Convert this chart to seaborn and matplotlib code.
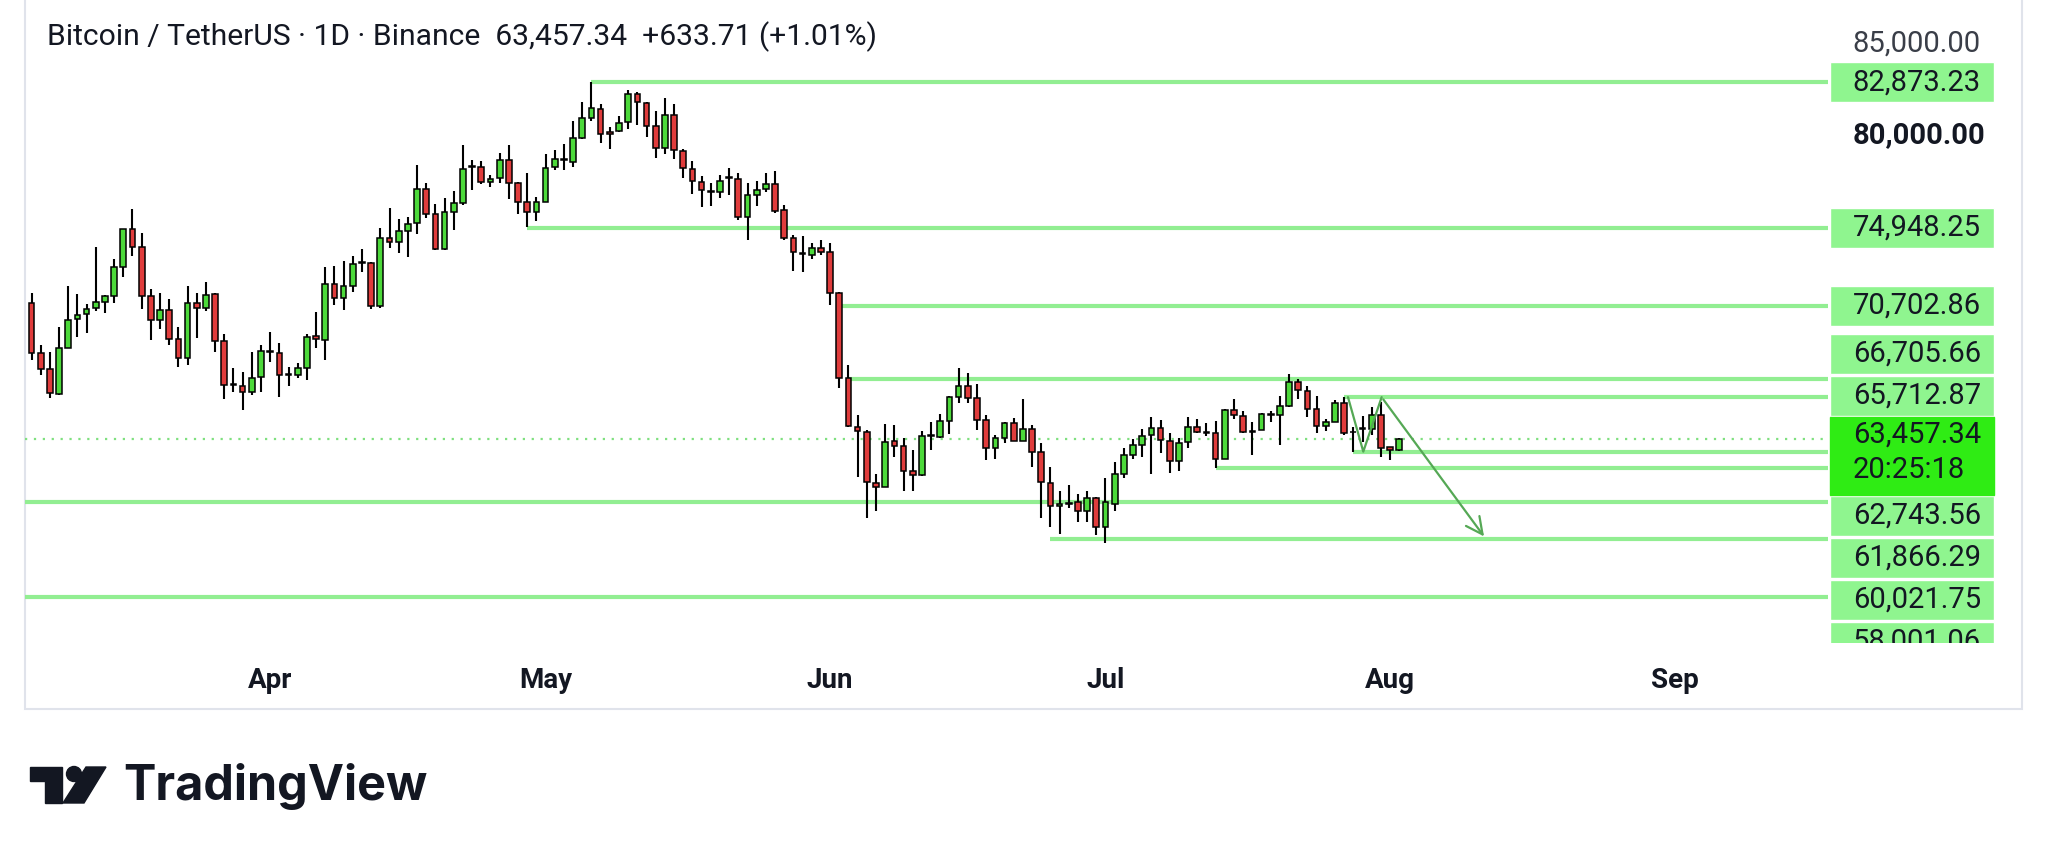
import numpy as np
import pandas as pd
import seaborn as sns
import matplotlib.pyplot as plt
import matplotlib.dates as mdates
from matplotlib.patches import Rectangle, Polygon, Circle

# daily candles, BTC/USDT (Mar 6 .. Aug 2)
dates = pd.date_range('2024-03-06', periods=150, freq='D')
opens = [70867, 68105, 67234, 65889, 68414, 69958, 70231, 70558, 70921, 71230,
         72828, 74863, 73882, 71230, 69922, 70467, 68886, 67833, 70867, 70558,
         71339, 68777, 66434, 66343, 66016, 66797, 68160, 68105, 66925, 66925,
         67324, 69050, 68831, 71883, 71102, 71792, 73046, 73009, 70702, 74408,
         74154, 74790, 75189, 77060, 75680, 73791, 75825, 76297, 78259, 78241,
         77460, 77641, 78622, 77369, 76334, 75789, 76370, 78241, 78622, 78550,
         79858, 80948, 81420, 80185, 80221, 80693, 82219, 81765, 80493, 79313,
         81093, 79131, 78150, 77460, 76951, 76879, 77641, 77605, 75553, 76733,
         77060, 77315, 75916, 74408, 73591, 73464, 73863, 73645, 71375, 66741,
         64107, 63835, 61020, 60838, 63326, 63072, 61711, 61474, 63599, 63563,
         64417, 65742, 66324, 65651, 64471, 62927, 63508, 64289, 63326, 63980,
         62709, 61020, 59785, 59908, 60020, 59531, 60238, 58622, 59908, 61510,
         62563, 63108, 63653, 64017, 63344, 62236, 63290, 64107, 63835, 63744,
         62345, 65016, 64707, 63871, 63926, 64743, 64743, 65234, 66523, 66051,
         65052, 64162, 64380, 65379, 63835, 63980, 63980, 64743, 62981, 62823.63]
highs = [71411, 68560, 68196, 69522, 71775, 71321, 70776, 73918, 71284, 73228,
         74900, 75971, 74645, 71611, 71375, 71066, 69559, 71793, 71411, 71993,
         71400, 69141, 67288, 67106, 68196, 68560, 69286, 68650, 67342, 67560,
         69141, 70376, 72791, 72864, 73155, 73427, 73791, 73100, 74917, 76043,
         75425, 75516, 78368, 77405, 76225, 76552, 76951, 79458, 78641, 78586,
         77823, 79004, 79458, 77460, 77914, 76642, 78949, 79186, 79494, 80784,
         81820, 82873, 81692, 80457, 81057, 82455, 82364, 81820, 81311, 82037,
         81674, 79240, 78586, 77787, 77405, 77823, 78223, 77914, 77369, 77514,
         77914, 78059, 76188, 74553, 74499, 74099, 74281, 74099, 71429, 67468,
         64743, 63926, 61528, 64235, 64198, 63508, 62836, 63889, 64380, 64780,
         65797, 67286, 67014, 66414, 64743, 63653, 64380, 64598, 65615, 64198,
         63199, 61928, 60598, 60929, 60416, 60598, 60260, 61328, 62200, 62963,
         63435, 63980, 64652, 64451, 63744, 63508, 64652, 64507, 64289, 64416,
         65052, 65597, 64961, 64380, 64834, 64961, 65797, 66959, 66705, 66323,
         65797, 64525, 65560, 65742, 64107, 64707, 65161, 65470, 63017, 63508]
lows = [67742, 66925, 65653, 65835, 68400, 69014, 69195, 70412, 70321, 70867,
        72247, 73428, 70521, 68832, 69413, 68560, 67379, 67470, 68923, 70430,
        68160, 65599, 66016, 65017, 65835, 66016, 67615, 65744, 66343, 66779,
        66652, 68377, 67742, 70739, 70466, 71465, 72555, 70521, 70593, 73827,
        73554, 73336, 74590, 75462, 73750, 73736, 74826, 76188, 77006, 77315,
        77187, 77369, 76515, 75698, 75008, 75316, 76330, 78096, 78096, 78277,
        79800, 80766, 79549, 79222, 80185, 80330, 80548, 79876, 78768, 78949,
        78695, 77641, 76770, 76097, 76152, 76552, 76733, 75371, 74281, 76152,
        76915, 75734, 74281, 72610, 72519, 73246, 73464, 70739, 66198, 64100,
        61383, 59149, 59530, 60801, 62436, 60598, 60598, 61440, 62836, 63472,
        63690, 65379, 65379, 63926, 62291, 62346, 63199, 63300, 63300, 61928,
        59112, 58622, 58237, 59690, 58931, 58931, 58205, 57760, 59508, 61292,
        62345, 62438, 61508, 62654, 61564, 61710, 62963, 63770, 63617, 61837,
        62320, 64525, 63770, 62563, 63900, 64380, 63108, 65161, 65597, 64616,
        63744, 63871, 64350, 63653, 62745, 63290, 63653, 62472, 62287, 62781]
closes = [68142, 67252, 65926, 68378, 69940, 70194, 70521, 70921, 71230, 72792,
          74863, 73918, 71230, 69922, 70467, 68886, 67833, 70867, 70558, 71302,
          68777, 66380, 66380, 66016, 66779, 68251, 68232, 66925, 66979, 67288,
          69014, 68886, 71883, 71102, 71792, 72955, 73100, 70702, 74408, 74154,
          74790, 75153, 77060, 75680, 73791, 75825, 76297, 78150, 78314, 77424,
          77605, 78622, 77405, 76370, 75789, 76334, 78223, 78677, 78695, 79821,
          80911, 81456, 80039, 80076, 80639, 82219, 81783, 80512, 79313, 81093,
          79186, 78186, 77496, 77006, 76879, 77514, 77696, 75553, 76733, 77006,
          77315, 75880, 74408, 73609, 73518, 73863, 73645, 71411, 66743, 64162,
          63871, 61074, 60838, 63290, 63072, 61711, 61474, 63599, 63653, 64417,
          65742, 66324, 65651, 64471, 62927, 63508, 64289, 63326, 63980, 62745,
          61074, 59785, 59908, 59962, 59531, 60238, 58622, 60020, 61510, 62563,
          63108, 63617, 64017, 63381, 62236, 63199, 64107, 63799, 63780, 62345,
          65016, 64743, 63799, 63799, 64798, 64779, 65234, 66560, 66105, 65070,
          64162, 64380, 65415, 63744, 63799, 64016, 64743, 62926, 62823.63, 63457.34]

last_price = 63457.34
change = 633.71
change_pct = 1.01
countdown = '20:25:18'

# horizontal levels drawn on the chart, with the day each one starts (None = from the left edge)
level_values = [82873.23, 74948.25, 70702.86, 66705.66, 65712.87,
                62743.56, 61866.29, 60021.75, 58001.06, 54800.00]
level_starts = ['2024-05-06', '2024-04-29', '2024-06-02', '2024-06-03', '2024-07-27',
                '2024-07-28', '2024-07-13', None, '2024-06-25', None]

# zig-zag + arrow drawing
path_dates = ['2024-07-27 10:00', '2024-07-29 02:00', '2024-07-31 02:00']
path_prices = [65712.87, 62743.56, 65712.87]
arrow_end_date = '2024-08-11 10:00'
arrow_end_price = 58001.06

axis_ticks = [85000, 80000]
month_ticks = ['2024-04-01', '2024-05-01', '2024-06-01', '2024-07-01', '2024-08-01', '2024-09-01']

# colours
up_col = '#4cd93a'
down_col = '#e03c3c'
level_col = '#92ee92'
label_col = '#8ff58f'
last_col = '#2fec14'
arrow_col = '#55a855'
text_col = '#131722'

sns.set_theme(style='white')
plt.rcParams['font.family'] = ['Roboto', 'DejaVu Sans']

W, H = 2048, 861
fig = plt.figure(figsize=(W / 100, H / 100), dpi=100)
fig.patch.set_facecolor('white')

y_top, y_bot = 87358, 52315
ax = fig.add_axes([25 / W, 1 - 643 / H, (1828 - 25) / W, 643 / H])
ax2 = fig.add_axes([1828 / W, 1 - 643 / H, (2022 - 1828) / W, 643 / H])
for a in (ax, ax2):
    a.set_ylim(y_bot, y_top)
    for s in a.spines.values():
        s.set_visible(False)
    a.set_facecolor('none')
ax2.set_xlim(0, 1)
ax2.set_xticks([])
ax2.set_yticks([])

x_lo = mdates.date2num(pd.Timestamp('2024-03-05 07:00'))
x_hi = mdates.date2num(pd.Timestamp('2024-09-17 17:00'))
ax.set_xlim(x_lo, x_hi)

# candles
o = np.array(opens, float)
c = np.array(closes, float)
hi = np.array(highs, float)
lo = np.array(lows, float)
xs = mdates.date2num(dates)
up = c >= o
body_lo = np.minimum(o, c)
body_h = np.maximum(np.abs(c - o), 40)
ax.vlines(xs, lo, hi, color='black', lw=1.5, zorder=3)
ax.bar(xs, body_h, bottom=body_lo, width=0.62,
       color=np.where(up, up_col, down_col), edgecolor='black', linewidth=1.1, zorder=4)

# level lines
for v, st in zip(level_values, level_starts):
    x0 = x_lo if st is None else mdates.date2num(pd.Timestamp(st))
    ax.hlines(v, x0, x_hi, color=level_col, lw=3.0, zorder=2)

# current price dotted line
ax.axhline(last_price, color='#7fe07f', lw=1.6, ls=(0, (1, 3)), zorder=1)

# drawing: zig-zag and arrow
path = pd.DataFrame({'x': mdates.date2num(pd.to_datetime(path_dates)), 'y': path_prices})
sns.lineplot(data=path, x='x', y='y', ax=ax, color=arrow_col, lw=1.6, sort=False, zorder=5)
ax.annotate('', xy=(mdates.date2num(pd.Timestamp(arrow_end_date)), arrow_end_price),
            xytext=(path['x'].iloc[-1], path['y'].iloc[-1]),
            arrowprops=dict(arrowstyle='->', color=arrow_col, lw=1.6, mutation_scale=30),
            zorder=5)

# month ticks
ax.set_xticks(mdates.date2num(pd.to_datetime(month_ticks)))
ax.xaxis.set_major_formatter(mdates.DateFormatter('%b'))
ax.tick_params(axis='x', length=0, pad=17, labelsize=20, labelcolor=text_col)
for t in ax.get_xticklabels():
    t.set_fontweight('bold')
ax.set_yticks([])
ax.set_xlabel('')
ax.set_ylabel('')

# price scale labels, stacked around the last price box like the chart does
px = (y_top - y_bot) / 643.0
step = 42 * px
box_h = 40 * px
box_top = last_price + 22 * px
box_bottom = last_price - 56 * px

centers = {}
bound = box_top
for v in sorted([v for v in level_values if v > last_price]):
    ctr = max(v, bound + step / 2)
    centers[v] = ctr
    bound = ctr + step / 2
bound = box_bottom
for v in sorted([v for v in level_values if v < last_price], reverse=True):
    ctr = min(v, bound - step / 2)
    centers[v] = ctr
    bound = ctr - step / 2

lx = 0.128
for v in axis_ticks:
    bold = v == 80000
    ax2.text(lx, v, f'{v:,.2f}', ha='left', va='center', fontsize=21,
             color=text_col if bold else '#3a3e48', fontweight='bold' if bold else 'normal',
             clip_on=True)

vals = list(centers.keys())
ax2.barh([centers[v] for v in vals], 0.846, left=0.01, height=box_h, color=label_col, zorder=2)
for v in vals:
    ax2.text(lx, centers[v], f'{v:,.2f}', ha='left', va='center', fontsize=21,
             color=text_col, clip_on=True, zorder=3)

ax2.add_patch(Rectangle((0.01, box_bottom), 0.846, box_top - box_bottom,
                        color=last_col, zorder=4))
ax2.text(lx, last_price + 4 * px, f'{last_price:,.2f}', ha='left', va='center',
         fontsize=21, color=text_col, zorder=5, clip_on=True)
ax2.text(lx, last_price - 31.5 * px, countdown, ha='left', va='center',
         fontsize=21, color=text_col, zorder=5, clip_on=True)

# overlay in pixel coordinates for header, border and logo
ov = fig.add_axes([0, 0, 1, 1], zorder=-1)
ov.set_xlim(0, W)
ov.set_ylim(H, 0)
ov.axis('off')
ov.add_patch(Rectangle((25, -2), 2022 - 25, 709 + 2, fill=False, ec='#e0e3eb', lw=1.5))

ov2 = fig.add_axes([0, 0, 1, 1], zorder=10)
ov2.set_xlim(0, W)
ov2.set_ylim(H, 0)
ov2.axis('off')
title = (f'Bitcoin / TetherUS · 1D · Binance  {last_price:,.2f}  '
         f'+{change:,.2f} (+{change_pct:.2f}%)')
ov2.text(47, 37, title, ha='left', va='center', fontsize=21.6, color=text_col)

# TradingView logo
ov2.add_patch(Polygon([(30, 767), (62, 767), (62, 803), (45, 803), (45, 781), (30, 781)],
                      closed=True, color='#131722'))
ov2.add_patch(Circle((74, 774), 7.5, color='#131722'))
ov2.add_patch(Polygon([(86, 767), (106, 767), (84, 803), (63, 803)], closed=True, color='#131722'))
ov2.text(123, 786, 'TradingView', ha='left', va='center', fontsize=35,
         fontweight='bold', family=['Inter', 'DejaVu Sans'], color='#131722')

fig.savefig('out.png', dpi=100)
